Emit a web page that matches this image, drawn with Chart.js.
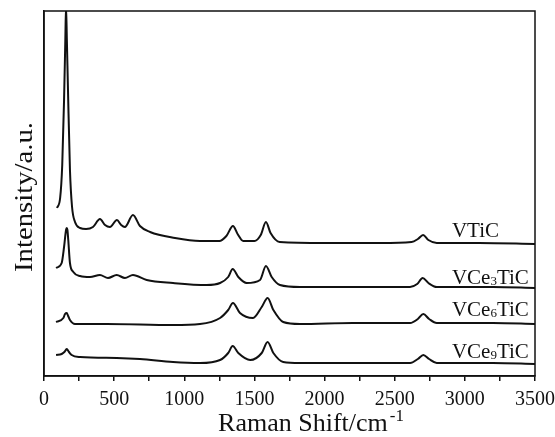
<!DOCTYPE html>
<html>
<head>
<meta charset="utf-8">
<script src="https://cdn.jsdelivr.net/npm/chart.js@4.4.1/dist/chart.umd.min.js"></script>
<style>
html,body{margin:0;padding:0;background:#fff;}
#wrap{width:555px;height:437px;position:relative;}
</style>
</head>
<body>
<div id="wrap"><canvas id="c"></canvas></div>
<script>
// Raman shift (cm-1) and intensity (a.u., stacked offsets as plotted)
const shiftVTiC = [93,115,130,143,152,157,163,171,185,200,221,257,300,349,399,435,470,520,550,577,634,684,756,934,1112,1250,1300,1347,1380,1420,1500,1545,1582,1615,1680,2000,2400,2620,2665,2702,2740,2800,3100,3500];
const intVTiC   = [168,178,211,276,336,370,336,286,206,169,154,148,147,149,157,151,149,156,151,149,161,150,144,138,135,135,140,150,142,135,135,141,154,143,134,133,133,134,137,141,136,133,133,132];

const shiftVCe3 = [86,126,143,157,162,167,173,185,209,257,328,399,456,518,577,634,732,920,1160,1255,1313,1345,1385,1445,1540,1582,1623,1682,1825,2200,2609,2660,2699,2740,2800,3200,3500];
const intVCe3   = [108,113,129,146,148,146,136,113,104,100,99,101,98,101,98,101,96,93,91,93,99,107,99,93,96,110,99,91,89,89,89,92,98,93,89,89,88];

const shiftVCe6 = [86,138,150,162,172,185,221,447,920,1112,1255,1313,1347,1397,1490,1552,1594,1635,1705,1825,2200,2610,2665,2704,2745,2800,3200,3500];
const intVCe6   = [54,58,62,63,60,56,52,52,51,52,58,66,73,63,58,69,78,66,54,52,53,53,57,62,57,53,53,52];

const shiftVCe9 = [86,126,145,162,178,197,257,518,684,920,1112,1255,1313,1345,1385,1470,1552,1594,1635,1705,1825,2200,2610,2665,2704,2745,2800,3200,3500];
const intVCe9   = [21,22,24,27,24,21,19,18,17,14,13,16,23,30,23,16,23,34,23,14,13,13,13,17,21,17,13,13,12];

const xTicks = [0,500,1000,1500,2000,2500,3000,3500];

// curve labels: [main text, subscript, main text after], anchored in data units
const labelNames = [["VTiC","",""],["VCe","3","TiC"],["VCe","6","TiC"],["VCe","9","TiC"]];
const labelShift = [2908,2908,2908,2908];
const labelInt   = [139,92,60,18];

function pts(xs, ys){ return xs.map((x,i)=>({x:x,y:ys[i]})); }

const SERIF = '"Liberation Serif","DejaVu Serif",serif';

const framePlugin = {
  id:'frame',
  afterDraw(chart){
    const ctx = chart.ctx, a = chart.chartArea;
    const xs = chart.scales.x, ys = chart.scales.y;
    ctx.save();
    ctx.strokeStyle = '#111';
    ctx.lineWidth = 1.5;
    ctx.strokeRect(a.left, a.top, a.right-a.left, a.bottom-a.top);
    // curve labels
    ctx.fillStyle = '#111';
    ctx.textBaseline = 'alphabetic';
    ctx.textAlign = 'left';
    labelNames.forEach((parts,i)=>{
      let px = xs.getPixelForValue(labelShift[i]);
      const py = ys.getPixelForValue(labelInt[i]);
      ctx.font = '21px ' + SERIF;
      ctx.fillText(parts[0], px, py);
      px += ctx.measureText(parts[0]).width;
      if(parts[1]){
        ctx.font = '13px ' + SERIF;
        ctx.fillText(parts[1], px, py+1);
        px += ctx.measureText(parts[1]).width;
        ctx.font = '21px ' + SERIF;
        ctx.fillText(parts[2], px, py);
      }
    });
    // x axis title
    ctx.font = '26px ' + SERIF;
    const main = 'Raman Shift/cm';
    const wMain = ctx.measureText(main).width;
    ctx.font = '17px ' + SERIF;
    const wSup = ctx.measureText('-1').width;
    const cx = 311, base = 431;
    let sx = cx - (wMain + wSup + 2)/2;
    ctx.font = '26px ' + SERIF;
    ctx.fillText(main, sx, base);
    ctx.font = '17px ' + SERIF;
    ctx.fillText('-1', sx + wMain + 2, base - 10);
    // y axis title
    ctx.save();
    ctx.translate(32, 197);
    ctx.rotate(-Math.PI/2);
    ctx.font = '26px ' + SERIF;
    ctx.textAlign = 'center';
    const wy = ctx.measureText('Intensity/a.u.').width;
    ctx.scale(150/wy, 1);
    ctx.fillText('Intensity/a.u.', 0, 0);
    ctx.restore();
    ctx.restore();
  }
};

const lineStyle = {borderColor:'#111', borderWidth:2, pointRadius:0, fill:false, cubicInterpolationMode:'monotone'};

new Chart(document.getElementById('c'), {
  type:'line',
  data:{
    datasets:[
      Object.assign({label:'VTiC', data:pts(shiftVTiC,intVTiC)}, lineStyle),
      Object.assign({label:'VCe3TiC', data:pts(shiftVCe3,intVCe3)}, lineStyle),
      Object.assign({label:'VCe6TiC', data:pts(shiftVCe6,intVCe6)}, lineStyle),
      Object.assign({label:'VCe9TiC', data:pts(shiftVCe9,intVCe9)}, lineStyle)
    ]
  },
  options:{
    responsive:true,
    maintainAspectRatio:false,
    animation:false,
    layout:{padding:{top:11,right:20,left:0,bottom:0}},
    plugins:{legend:{display:false}, tooltip:{enabled:false}},
    scales:{
      x:{
        type:'linear', min:0, max:3500,
        afterFit(s){ s.height = 61; s.paddingRight = 0; s.paddingLeft = 0; },
        afterBuildTicks(s){ const t=[]; for(let v=0; v<=3500; v+=250) t.push({value:v}); s.ticks = t; },
        ticks:{
          autoSkip:false, maxRotation:0, color:'#111', padding:7,
          font:{family:SERIF, size:20},
          callback:(v)=> xTicks.includes(v) ? String(v) : ''
        },
        grid:{drawOnChartArea:false, drawTicks:true, tickLength:5, color:'#111', lineWidth:1.5},
        border:{display:true, color:'#111', width:1.5}
      },
      y:{
        type:'linear', min:0, max:365,
        afterFit(s){ s.width = 44; },
        ticks:{display:false},
        grid:{display:false},
        border:{display:true, color:'#111', width:1.5}
      }
    }
  },
  plugins:[framePlugin]
});
</script>
</body>
</html>
